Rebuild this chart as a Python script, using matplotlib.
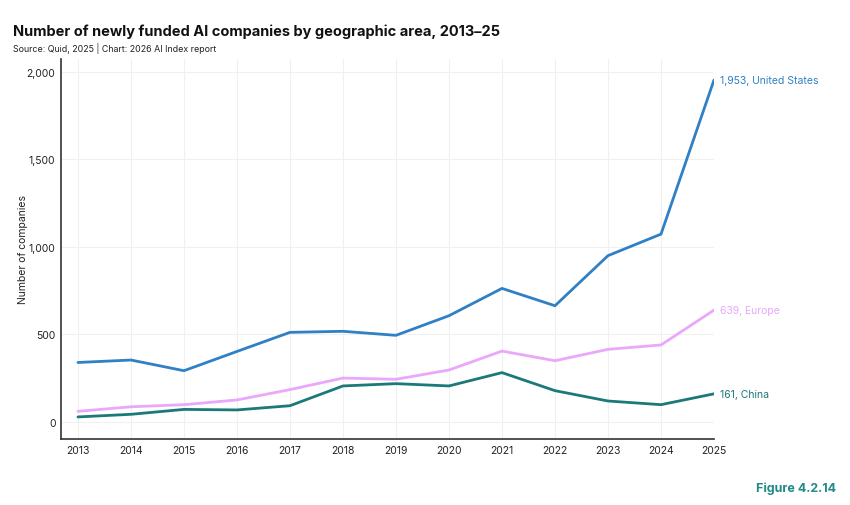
import matplotlib
matplotlib.use("Agg")
import matplotlib.pyplot as plt

plt.rcParams['font.family'] = ['Inter', 'DejaVu Sans']

years = list(range(2013, 2026))
us = [340, 354, 293, 403, 512, 518, 495, 607, 763, 664, 950, 1073, 1953]
europe = [61, 87, 99, 126, 185, 251, 244, 297, 405, 350, 415, 440, 639]
china = [29, 44, 72, 69, 93, 206, 219, 206, 282, 179, 120, 99, 161]

series = [
    ("United States", us, "#2f80c4"),
    ("Europe", europe, "#e9a8fb"),
    ("China", china, "#1b7a78"),
]

fig = plt.figure(figsize=(8.5, 5.06), dpi=100)
ax = fig.add_axes([61/850, 1-440/506, (714-61)/850, (440-60)/506])

for name, vals, col in series:
    ax.plot(years, vals, color=col, lw=2.0, solid_capstyle='round', zorder=3)
    ax.annotate(f"{vals[-1]:,}, {name}", xy=(years[-1], vals[-1]),
                xytext=(4, 0), textcoords='offset points', va='center', ha='left',
                color=col, fontsize=7.5, annotation_clip=False)

ax.set_xlim(2012.68, 2025)
ax.set_ylim(-97, 2073)
ax.set_xticks(years)
ax.set_yticks([0, 500, 1000, 1500, 2000])
ax.set_yticklabels([f"{v:,}" for v in [0, 500, 1000, 1500, 2000]])
ax.tick_params(axis='both', length=0, labelsize=7.5, colors='#222222', pad=4)
ax.grid(True, color='#f0f0f0', lw=0.8, zorder=0)
for s in ['top', 'right']:
    ax.spines[s].set_visible(False)
for s in ['left', 'bottom']:
    ax.spines[s].set_color('#333333')
    ax.spines[s].set_linewidth(1.2)
ax.set_ylabel("Number of companies", fontsize=7.5, color='#222222', labelpad=0)
ax.yaxis.set_label_coords(-(61-28)/653, 0.5)

fig.text(13/850, 1-36/506, "Number of newly funded AI companies by geographic area, 2013\u201325",
         fontsize=10.5, fontweight='bold', color='#111111', ha='left', va='baseline')
fig.text(13/850, 1-52/506, "Source: Quid, 2025 | Chart: 2026 AI Index report",
         fontsize=6.4, color='#222222', ha='left', va='baseline')
fig.text(836/850, 1-492/506, "Figure 4.2.14", fontsize=9, fontweight='bold',
         color='#1f8a86', ha='right', va='baseline')

fig.savefig("out.png", dpi=100)
